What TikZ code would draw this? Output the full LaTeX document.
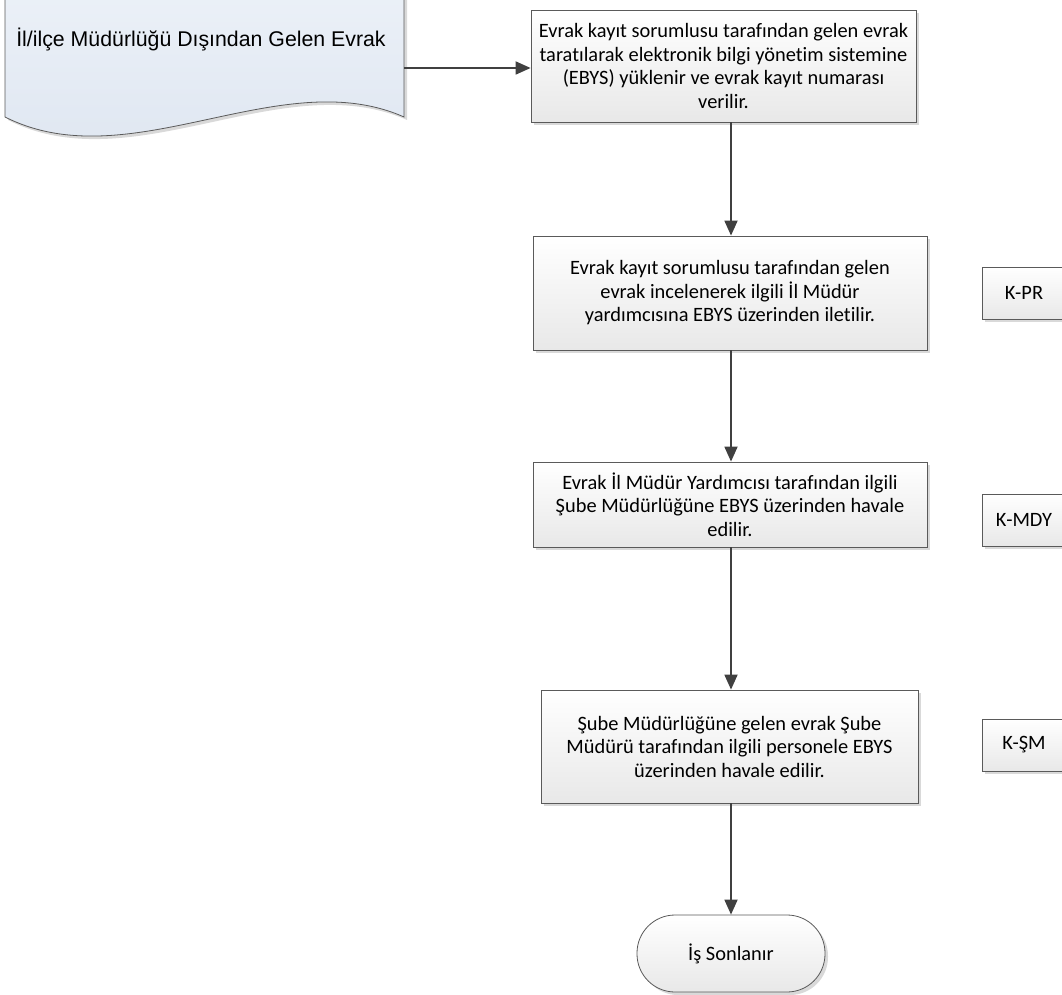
\documentclass[tikz,border=0pt]{standalone}
\usepackage{fontspec}
\setmainfont{Carlito}[Ligatures=CommonOff]
\newfontfamily\arialf{Liberation Sans}
\usetikzlibrary{arrows.meta,shadows,calc}
\definecolor{doctop}{RGB}{236,241,248}
\definecolor{docbot}{RGB}{221,229,240}
\definecolor{edgegray}{RGB}{90,90,90}
\definecolor{arrgray}{RGB}{64,64,64}
\begin{document}
\begin{tikzpicture}[x=1pt,y=-1pt,
  procbox/.style={draw=edgegray, line width=0.8pt, rectangle, top color=white, bottom color=black!9,
    drop shadow={shadow xshift=3pt, shadow yshift=-3pt, fill=black!25, opacity=0.6},
    align=center, font=\fontsize{20.4}{23.5}\selectfont, inner sep=0pt},
  codebox/.style={procbox},
  termbox/.style={procbox, rounded corners=38pt},
  arr/.style={draw=arrgray, line width=1.8pt, -{Triangle[length=15pt,width=13pt]}}]
\useasboundingbox (0,0) rectangle (1062,995);
% document shape
\path[top color=doctop, bottom color=docbot, draw=edgegray, line width=0.8pt,
  drop shadow={shadow xshift=3pt, shadow yshift=-3pt, fill=black!25, opacity=0.6}]
  (5,-20) -- (404,-20) -- (404,117) .. controls (280,62) and (130,180) .. (5,117) -- cycle;
\node[font=\arialf\fontsize{21.3}{25}\selectfont, anchor=base] (doc) at (201,47) {İl/ilçe Müdürlüğü Dışından Gelen Evrak};
\coordinate (docR) at (404,68);
% process boxes
\node[procbox, minimum width=385pt, minimum height=112pt] (b1) at (723.5,66)
  {Evrak kayıt sorumlusu tarafından gelen evrak\\taratılarak elektronik bilgi yönetim sistemine\\(EBYS) yüklenir ve evrak kayıt numarası\\verilir.};
\node[procbox, minimum width=394pt, minimum height=114pt] (b2) at (730,293)
  {Evrak kayıt sorumlusu tarafından gelen\\evrak incelenerek ilgili İl Müdür\\yardımcısına EBYS üzerinden iletilir.};
\node[procbox, minimum width=394pt, minimum height=85pt] (b3) at (730,504.5)
  {Evrak İl Müdür Yardımcısı tarafından ilgili\\Şube Müdürlüğüne EBYS üzerinden havale\\edilir.};
\node[procbox, minimum width=377pt, minimum height=113pt] (b4) at (729.5,746.5)
  {Şube Müdürlüğüne gelen evrak Şube\\Müdürü tarafından ilgili personele EBYS\\üzerinden havale edilir.};
\node[termbox, minimum width=188pt, minimum height=77pt] (end) at (731,953.5) {İş Sonlanır};
% code boxes
\node[codebox, minimum width=84pt, minimum height=52pt] (k1) at (1024,293) {K-PR};
\node[codebox, minimum width=84pt, minimum height=52pt] (k2) at (1024,520) {K-MDY};
\node[codebox, minimum width=84pt, minimum height=52pt] (k3) at (1024,745) {K-ŞM};
% connectors
\draw[arr] (docR) -- (docR -| b1.west);
\draw[arr] (b1.south -| end.north) -- (b2.north -| end.north);
\draw[arr] (b2.south -| end.north) -- (b3.north -| end.north);
\draw[arr] (b3.south -| end.north) -- (b4.north -| end.north);
\draw[arr] (b4.south -| end.north) -- (end.north);
\end{tikzpicture}
\end{document}
